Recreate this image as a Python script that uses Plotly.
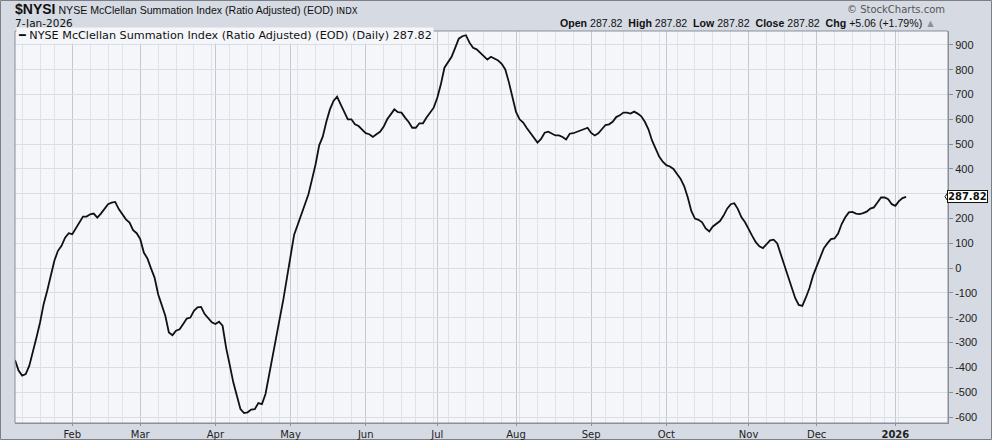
import pandas as pd
import plotly.graph_objects as go

# $NYSI - NYSE McClellan Summation Index (Ratio Adjusted), daily, 8-Jan-2025 .. 7-Jan-2026
# market holidays (sessions skipped on the x axis)
holidays = ["2025-01-09", "2025-01-20", "2025-02-17", "2025-04-18", "2025-05-26",
            "2025-06-19", "2025-07-04", "2025-09-01", "2025-11-27", "2025-12-25",
            "2026-01-01"]

# one value per trading session, grouped by month
jan_25 = [-370, -413, -433, -427, -393, -340, -279, -219, -145, -91, -31, 30, 70, 90, 123, 141]
feb_25 = [137, 160, 187, 208, 208, 217, 220, 204, 220, 238, 258, 264, 267, 238, 216, 197, 184, 153, 141]
mar_25 = [117, 63, 39, -1, -38, -105, -152, -192, -259, -270, -252, -246, -225, -203, -199, -172,
          -158, -156, -185, -200, -218]
apr_25 = [-225, -216, -232, -321, -390, -460, -514, -568, -584, -581, -570, -568, -544, -548, -507,
          -433, -360, -286, -205, -125, -38]
may_25 = [45, 135, 175, 217, 250, 298, 358, 419, 495, 530, 590, 640, 674, 691, 660, 629, 600, 600,
          580, 573, 560]
jun_25 = [544, 540, 529, 540, 550, 570, 600, 620, 640, 629, 627, 607, 589, 566, 566, 584, 584, 607,
          629, 647]
jul_25 = [687, 741, 808, 828, 852, 888, 925, 935, 939, 909, 888, 882, 868, 851, 841, 852, 844, 837,
          824, 801, 750, 690]
aug_25 = [630, 600, 587, 565, 545, 524, 506, 521, 546, 550, 544, 535, 535, 529, 519, 542, 544, 549,
          557, 562, 566]
sep_25 = [545, 535, 544, 560, 577, 580, 590, 609, 616, 627, 627, 623, 631, 623, 612, 590, 560, 515,
          480, 450, 429]
oct_25 = [415, 410, 400, 380, 360, 330, 285, 230, 200, 195, 185, 160, 148, 168, 178, 190, 212, 240,
          258, 262, 238, 205, 185]
nov_25 = [155, 130, 105, 88, 81, 95, 112, 115, 100, 55, 10, -30, -80, -120, -148, -152, -118, -80, -30]
dec_25 = [5, 40, 80, 100, 117, 120, 140, 178, 205, 225, 227, 220, 218, 222, 228, 240, 245, 265, 285,
          285, 278, 258]
jan_26 = [251, 270, 282.76, 287.82]

month_labels = ["Feb", "Mar", "Apr", "May", "Jun", "Jul", "Aug", "Sep", "Oct", "Nov", "Dec", "<b>2026</b>"]
y_ticks = list(range(-600, 1000, 100))
# the 300 label sits behind the last-value tag
y_labels = ["" if v == 300 else str(v) for v in y_ticks]

values = jan_25 + feb_25 + mar_25 + apr_25 + may_25 + jun_25 + jul_25 + aug_25 + sep_25 + oct_25 \
    + nov_25 + dec_25 + jan_26

# trading calendar
sessions = pd.bdate_range("2025-01-08", "2026-01-07")
sessions = sessions[~sessions.isin(pd.to_datetime(holidays))]
assert len(sessions) == len(values)

s = pd.Series(sessions)
month_first = s.groupby(s.dt.to_period("M")).first().iloc[1:]   # Jan 2025 starts before the chart
week_first = s.groupby(s.dt.to_period("W")).first()
week_first = week_first[~week_first.isin(month_first)]

last = values[-1]

# pixel geometry of the picture
W, H = 992, 440
L, R, T, B = 15, 44, 31, 17
pw, ph = W - L - R, H - T - B


def px(x):
    return (x - L) / pw


def py(y):
    return 1 - (y - T) / ph


fig = go.Figure()

fig.add_trace(go.Scatter(
    x=sessions,
    y=values,
    mode='lines',
    name='NYSE McClellan Summation Index (Ratio Adjusted) (EOD) (Daily)',
    line=dict(color='#111111', width=1.8),
    showlegend=False,
    hovertemplate='%{x|%d-%b-%Y}<br>%{y:.2f}<extra></extra>'
))

fig.update_layout(
    width=W, height=H,
    margin=dict(l=L, r=R, t=T, b=B, autoexpand=False),
    paper_bgcolor='#d6dae3',
    plot_bgcolor='#f5f6fa',
    font=dict(family='Liberation Sans, Arial', size=11, color='#222222'),
)

fig.update_xaxes(
    range=["2025-01-08", "2026-01-22 17:00"],
    rangebreaks=[dict(bounds=["sat", "mon"]), dict(values=holidays)],
    tickmode='array',
    tickvals=month_first,
    ticktext=month_labels,
    tickfont=dict(family='DejaVu Sans, Verdana', size=10, color='#222222'),
    ticks='outside', ticklen=2, tickcolor='#8a8f99',
    showgrid=True, gridcolor='#c4c8d1', gridwidth=1,
    minor=dict(tickvals=week_first, showgrid=True, gridcolor='#dfe2e9', ticks=''),
    showline=True, linecolor='#8a8f99', linewidth=1,
    zeroline=False, automargin=False,
)

fig.update_yaxes(
    side='right',
    range=[-624, 956],
    tickmode='array',
    tickvals=y_ticks,
    ticktext=y_labels,
    ticks='outside', ticklen=4, tickcolor='#8a8f99',
    tickfont=dict(family='Liberation Sans, Arial', size=11, color='#222222'),
    showgrid=True, gridcolor='#dadde5', gridwidth=1,
    showline=True, linecolor='#8a8f99', linewidth=1,
    zeroline=False, automargin=False,
)

# plot frame
fig.add_shape(type='rect', xref='paper', yref='paper', x0=0, x1=1, y0=0, y1=1,
              line=dict(color='#8a8f99', width=1))
# outer border
fig.add_shape(type='rect', xref='paper', yref='paper',
              x0=px(0.5), x1=px(W - 0.5), y0=py(H - 0.5), y1=py(0.5),
              line=dict(color='#7a7f88', width=1), layer='below')

# header
fig.add_annotation(
    xref='paper', yref='paper', x=px(13), y=py(9), xanchor='left', yanchor='middle',
    text="<b><span style='font-size:14px'>$NYSI</span></b> NYSE McClellan Summation Index "
         "(Ratio Adjusted) (EOD) <span style='font-size:8.5px;font-family:DejaVu Sans'>INDX</span>",
    showarrow=False, font=dict(family='Liberation Sans, Arial', size=10.6, color='#111111')
)
fig.add_annotation(
    xref='paper', yref='paper', x=px(13), y=py(23), xanchor='left', yanchor='middle',
    text='7-Jan-2026', showarrow=False,
    font=dict(family='DejaVu Sans, Verdana', size=10.5, color='#111111')
)
fig.add_annotation(
    xref='paper', yref='paper', x=px(947), y=py(9), xanchor='right', yanchor='middle',
    text='\u00a9 StockCharts.com', showarrow=False,
    font=dict(family='DejaVu Sans, Verdana', size=10, color='#555555')
)
fig.add_annotation(
    xref='paper', yref='paper', x=px(938), y=py(23), xanchor='right', yanchor='middle',
    text=f"<b>Open</b> {last:.2f}  <b>High</b> {last:.2f}  <b>Low</b> {last:.2f}  "
         f"<b>Close</b> {last:.2f}  <b>Chg</b> +5.06 (+1.79%) <span style='color:#8a8f99'>\u25b2</span>",
    showarrow=False, font=dict(family='Liberation Sans, Arial', size=10.6, color='#111111')
)

# in-plot legend
fig.add_annotation(
    xref='paper', yref='paper', x=px(16), y=py(36), xanchor='left', yanchor='middle',
    text=f"<b>\u2501</b> NYSE McClellan Summation Index (Ratio Adjusted) (EOD) (Daily) {last:.2f}",
    showarrow=False, bgcolor='#f5f6fa', borderpad=1,
    font=dict(family='DejaVu Sans, Verdana', size=11.2, color='#111111')
)

# last value tag on the price axis
fig.add_shape(type='path', xref='paper', yref='y',
              path=f"M {px(945)},{last} L {px(948)},{last + 18} L {px(948)},{last - 18} Z",
              fillcolor='white', line=dict(color='#111111', width=1))
fig.add_annotation(
    xref='paper', yref='y', x=px(947), y=last, xanchor='left', yanchor='middle',
    text=f"<b>{last:.2f}</b>", showarrow=False,
    bgcolor='white', bordercolor='#111111', borderwidth=1, borderpad=0,
    font=dict(family='DejaVu Sans, Verdana', size=10, color='#111111')
)

fig.write_html("out.html", config={'displayModeBar': False},
               post_script="document.body.style.margin='0px';")
